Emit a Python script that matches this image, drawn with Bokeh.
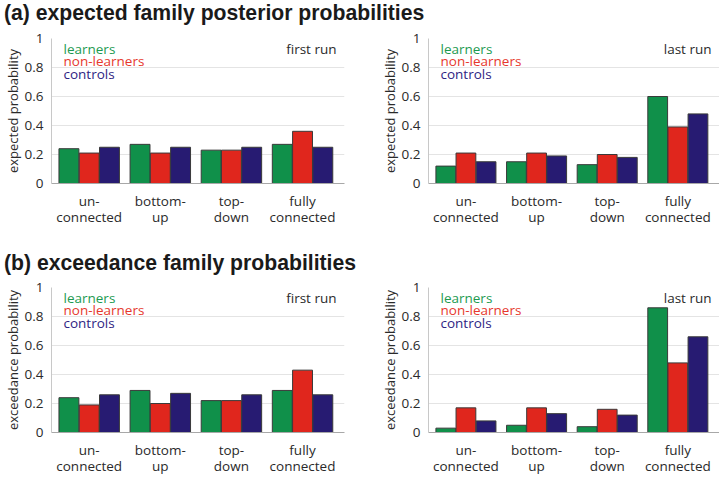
from bokeh.plotting import figure
from bokeh.models import Range1d, FixedTicker, NumeralTickFormatter, Label, Div
from bokeh.layouts import column, row
from bokeh.transform import dodge
from bokeh.embed import file_html
from bokeh.resources import INLINE

# ---- data ----
categories = ["un-\nconnected", "bottom-\nup", "top-\ndown", "fully\nconnected"]
groups = ["learners", "non-learners", "controls"]

exp_first_learners = [0.24, 0.27, 0.23, 0.27]
exp_first_nonlearners = [0.21, 0.21, 0.23, 0.36]
exp_first_controls = [0.25, 0.25, 0.25, 0.25]

exp_last_learners = [0.12, 0.15, 0.13, 0.60]
exp_last_nonlearners = [0.21, 0.21, 0.20, 0.39]
exp_last_controls = [0.15, 0.19, 0.18, 0.48]

exc_first_learners = [0.24, 0.29, 0.22, 0.29]
exc_first_nonlearners = [0.19, 0.20, 0.22, 0.43]
exc_first_controls = [0.26, 0.27, 0.26, 0.26]

exc_last_learners = [0.03, 0.05, 0.04, 0.86]
exc_last_nonlearners = [0.17, 0.17, 0.16, 0.48]
exc_last_controls = [0.08, 0.13, 0.12, 0.66]

y_ticks = [0, 0.2, 0.4, 0.6, 0.8, 1]

BAR_COLORS = ["#10904a", "#e0261d", "#271b72"]
TEXT_COLORS = ["#1d9a50", "#e6372c", "#2e2483"]
FONT = "Open Sans"
FRAME_H = 145


def panel(ylabel, run_label, series, left_fig, frame_w):
    p = figure(
        output_backend="svg", toolbar_location=None,
        frame_width=frame_w, frame_height=FRAME_H,
        x_range=Range1d(0.47, 4.59), y_range=Range1d(0, 1),
        min_border_top=8, min_border_bottom=45,
        min_border_left=48, min_border_right=(33 if left_fig else 0),
        background_fill_color="white", border_fill_color="white",
    )
    p.outline_line_color = None
    xs = list(range(1, len(categories) + 1))
    offsets = [-0.285, 0.0, 0.285]
    for vals, off, col in zip(series, offsets, BAR_COLORS):
        src = {"x": xs, "top": vals}
        p.vbar(x=dodge("x", off), top="top", bottom=0, width=0.28, source=src,
               fill_color=col, line_color="#3a3a3a", line_width=1)

    # axes
    p.xaxis.ticker = FixedTicker(ticks=xs)
    p.xaxis.major_label_overrides = {i: c for i, c in zip(xs, categories)}
    p.xaxis.major_tick_line_color = None
    p.xaxis.minor_tick_line_color = None
    p.xaxis.axis_line_color = "#a8a8a8"
    p.xaxis.major_label_text_font = FONT
    p.xaxis.major_label_text_font_size = "13.5px"
    p.xaxis.major_label_text_color = "#2a2a2a"
    p.xaxis.major_label_text_line_height = 0.92
    p.xaxis.major_label_standoff = 2

    p.yaxis.ticker = FixedTicker(ticks=y_ticks)
    p.yaxis.formatter = NumeralTickFormatter(format="0.[0]")
    p.yaxis.major_tick_line_color = None
    p.yaxis.minor_tick_line_color = None
    p.yaxis.axis_line_color = "#c8c8c8"
    p.yaxis.major_label_text_font = FONT
    p.yaxis.major_label_text_font_size = "13.5px"
    p.yaxis.major_label_text_color = "#2a2a2a"
    p.yaxis.major_label_standoff = 2
    p.yaxis.axis_label = ylabel
    p.yaxis.axis_label_text_font = FONT
    p.yaxis.axis_label_text_font_size = "13px"
    p.yaxis.axis_label_text_font_style = "normal"
    p.yaxis.axis_label_text_color = "#2a2a2a"
    p.yaxis.axis_label_standoff = 0

    p.xgrid.grid_line_color = None
    p.ygrid.ticker = FixedTicker(ticks=y_ticks)
    p.ygrid.grid_line_color = "#e4e4e4"
    p.ygrid.grid_line_width = 1

    for i, (g, tc) in enumerate(zip(groups, TEXT_COLORS)):
        p.add_layout(Label(x=12, y=FRAME_H - 10 - 12.5 * i, x_units="screen", y_units="screen",
                           text=g, text_color=tc, text_font=FONT, text_font_size="13.5px",
                           text_baseline="middle", text_align="left"))
    p.add_layout(Label(x=frame_w - 8, y=FRAME_H - 10, x_units="screen", y_units="screen",
                       text=run_label, text_color="#2a2a2a", text_font=FONT,
                       text_font_size="13.5px", text_baseline="middle", text_align="right"))
    return p


p1 = panel("expected probability", "first run",
           [exp_first_learners, exp_first_nonlearners, exp_first_controls], True, 293)
p2 = panel("expected probability", "last run",
           [exp_last_learners, exp_last_nonlearners, exp_last_controls], False, 291)
p3 = panel("exceedance probability", "first run",
           [exc_first_learners, exc_first_nonlearners, exc_first_controls], True, 293)
p4 = panel("exceedance probability", "last run",
           [exc_last_learners, exc_last_nonlearners, exc_last_controls], False, 291)

title_style = ("font-family:'Liberation Sans',Arial,sans-serif;font-weight:bold;font-size:21.2px;"
               "color:#1a1a1a;white-space:nowrap;line-height:26px;padding-left:4px;")
t1 = Div(text=f'<div style="{title_style}">(a) expected family posterior probabilities</div>',
         width=720, height=30, margin=0)
t2 = Div(text=f'<div style="{title_style}padding-top:21px;">(b) exceedance family probabilities</div>',
         width=720, height=50, margin=0)

layout = column(t1, row(p1, p2), t2, row(p3, p4))

open("out.html", "w").write(file_html(layout, INLINE))
